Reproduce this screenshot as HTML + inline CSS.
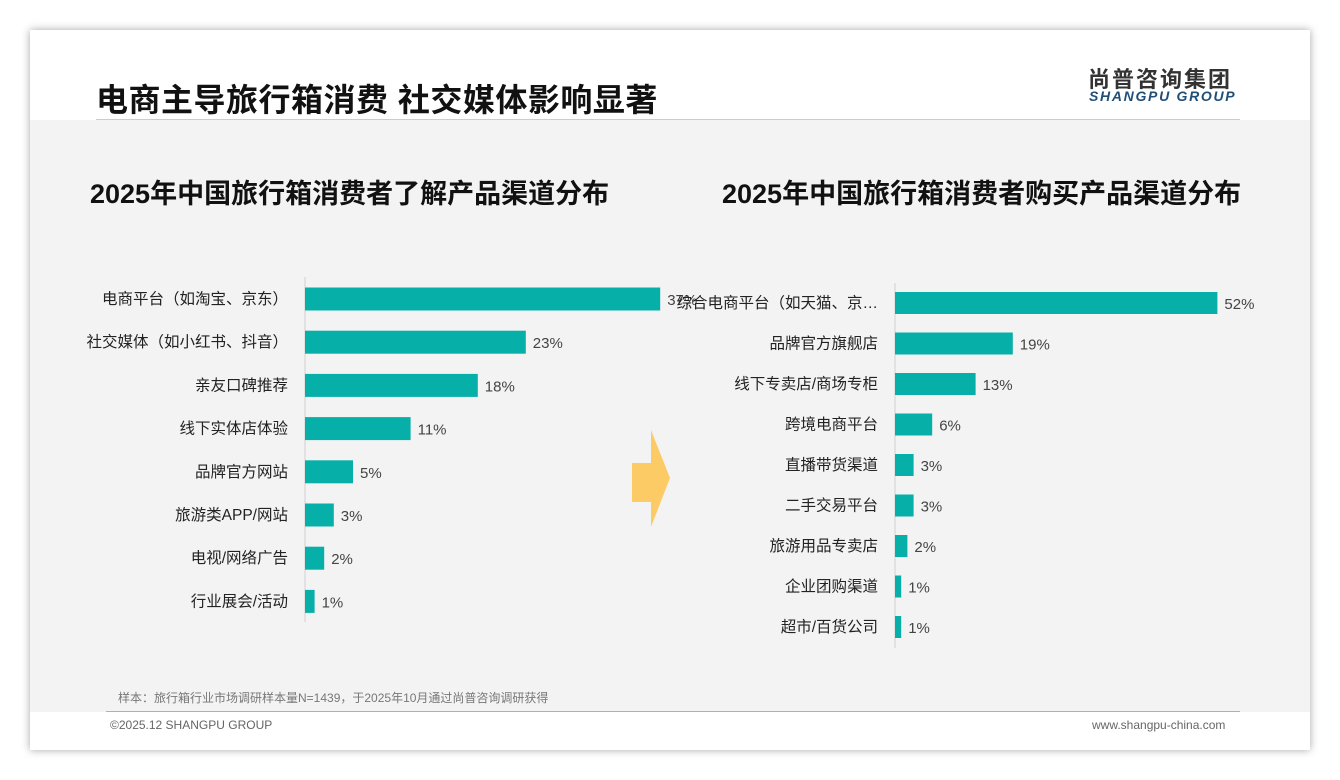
<!DOCTYPE html>
<html><head><meta charset="utf-8"><style>
body{margin:0;width:1340px;height:780px;background:#fff;font-family:"Liberation Sans","Noto Sans CJK SC",sans-serif;position:relative;overflow:hidden}
.card{position:absolute;left:30px;top:30px;width:1280px;height:720px;background:#f3f3f3;box-shadow:0 0 8px rgba(0,0,0,.35)}
.abs{position:absolute}
</style></head><body>
<div class="card">
 <div class="abs" style="left:0;top:0;width:1280px;height:90px;background:#fff"></div>
 <div class="abs" style="left:66px;top:45px;font-size:32px;font-weight:bold;color:#111;letter-spacing:0.5px">电商主导旅行箱消费 社交媒体影响显著</div>
 <div class="abs" style="left:66px;top:89px;width:1144px;height:1px;background:#ccc"></div>
 <div class="abs" style="left:1058px;top:32px;font-size:22px;font-weight:bold;color:#333;letter-spacing:2px">尚普咨询集团</div>
 <div class="abs" style="left:1059px;top:58px;font-size:14px;font-weight:bold;font-style:italic;color:#1f4e79;letter-spacing:1.7px">SHANGPU GROUP</div>
 <div class="abs" style="left:60px;top:142px;font-size:27px;font-weight:bold;color:#111">2025年中国旅行箱消费者了解产品渠道分布</div>
 <div class="abs" style="left:692px;top:142px;font-size:27px;font-weight:bold;color:#111">2025年中国旅行箱消费者购买产品渠道分布</div>
 <div class="abs" style="left:0;top:682px;width:1280px;height:38px;background:#fff"></div>
 <div class="abs" style="left:88px;top:659px;font-size:12px;color:#777">样本：旅行箱行业市场调研样本量N=1439，于2025年10月通过尚普咨询调研获得</div>
 <div class="abs" style="left:76px;top:681px;width:1134px;height:1px;background:#9fb4c8"></div>
 <div class="abs" style="left:80px;top:688px;font-size:12px;color:#666">©2025.12 SHANGPU GROUP</div>
 <div class="abs" style="left:1062px;top:688px;font-size:12px;color:#666">www.shangpu-china.com</div>
</div>
<svg class="abs" style="left:0;top:0" width="1340" height="780">
 <polygon points="632,463 651,463 651,430 670,478 651,527 651,502 632,502" fill="#fccb66"/>
 <g id="left"></g><g id="right"></g>
</svg>
<script>
const leftCats=["电商平台（如淘宝、京东）","社交媒体（如小红书、抖音）","亲友口碑推荐","线下实体店体验","品牌官方网站","旅游类APP/网站","电视/网络广告","行业展会/活动"];
const leftVals=[37,23,18,11,5,3,2,1];
const rightCats=["综合电商平台（如天猫、京…","品牌官方旗舰店","线下专卖店/商场专柜","跨境电商平台","直播带货渠道","二手交易平台","旅游用品专卖店","企业团购渠道","超市/百货公司"];
const rightVals=[52,19,13,6,3,3,2,1,1];
const NS="http://www.w3.org/2000/svg";
function draw(gid,cats,vals,x0,pxPer,y0,step,h,axisTop,axisBot,prefix){
 const g=document.getElementById(gid);
 const ax=document.createElementNS(NS,'line');
 
 
 ax.setAttribute('x1',x0);ax.setAttribute('x2',x0);ax.setAttribute('y1',axisTop);ax.setAttribute('y2',axisBot);ax.setAttribute('stroke','#d0d0d0');
 g.appendChild(ax);
 cats.forEach((c,i)=>{
  const cy=y0+i*step, w=vals[i]*pxPer;
  const r=document.createElementNS(NS,'rect');
  
  
  r.setAttribute('x',x0);r.setAttribute('y',cy-h/2);r.setAttribute('width',w);r.setAttribute('height',h);r.setAttribute('fill','#06b0a8');
  g.appendChild(r);
  const t=document.createElementNS(NS,'text');
  
  
  t.setAttribute('x',x0-17);t.setAttribute('y',cy+5);t.setAttribute('text-anchor','end');t.setAttribute('font-size','15.5');t.setAttribute('fill','#222');
  t.textContent=c;g.appendChild(t);
  const v=document.createElementNS(NS,'text');
  
  
  v.setAttribute('x',x0+w+7);v.setAttribute('y',cy+6);v.setAttribute('font-size','15');v.setAttribute('fill','#444');
  v.textContent=vals[i]+'%';g.appendChild(v);
 });
}
draw('left',leftCats,leftVals,305,9.6,299,43.2,23,277,622,'left');
draw('right',rightCats,rightVals,895,6.2,303,40.5,22,283,648,'right');
</script>
</body></html>
